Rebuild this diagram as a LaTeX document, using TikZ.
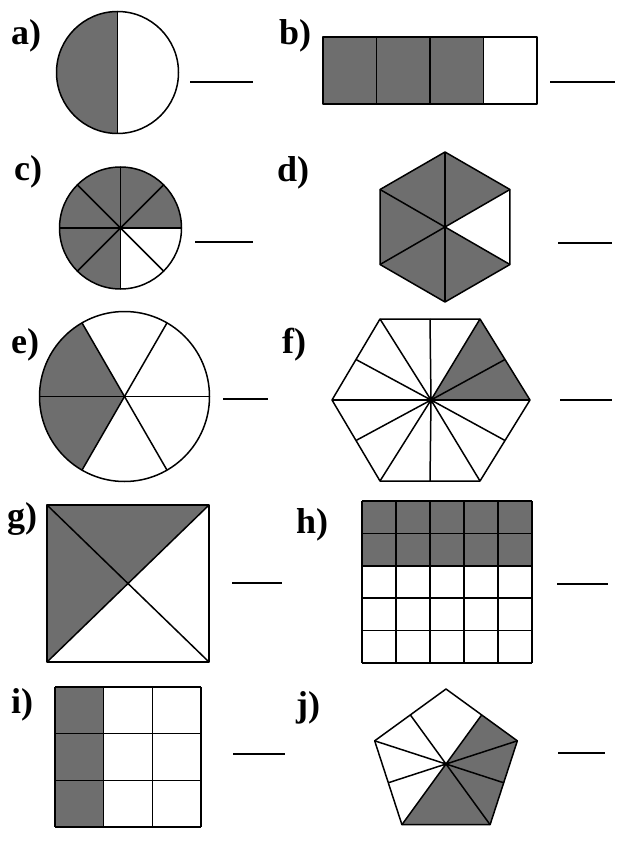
\documentclass[tikz,border=0pt]{standalone}
\usepackage{fontspec}
\setmainfont{Liberation Serif}
\usetikzlibrary{calc}

\begin{document}
\begin{tikzpicture}[x=1pt,y=1pt,line join=round,
  lbl/.style={font=\fontsize{36}{36}\selectfont\bfseries,anchor=base west,inner sep=0pt},
  part/.style={fill=black!57},
  edge/.style={line width=1.5pt},
  blank/.style={line width=1.4pt}]
  \useasboundingbox[fill=white] (0,0) rectangle (617,-845);

  % a) half circle
  \def\r{61}
  \coordinate (ca) at (117.5,-72.5);
  \fill[part] (ca) -- ++(90:\r) arc[start angle=90,end angle=270,radius=\r] -- cycle;
  \draw[edge] (ca) circle[radius=\r];
  \draw[edge] ($(ca)+(90:\r)$) -- ($(ca)+(270:\r)$);
  \node[lbl] (la) at (11,-45) {a)};
  \coordinate (a1) at (190,-82); \coordinate (a2) at (253,-82);
  \draw[blank] (a1) -- (a2);

  % b) strip of four
  \fill[part] (323,-37) rectangle (483.5,-104);
  \draw[edge] (323,-37) rectangle (537,-104);
  \foreach \i in {1,2,3} \draw[edge] (323+53.5*\i,-37) -- ++(0,-67);
  \node[lbl] (lb) at (279,-45) {b)};
  \coordinate (b1) at (550,-82); \coordinate (b2) at (615,-82);
  \draw[blank] (b1) -- (b2);

  % c) eighths
  \coordinate (cc) at (120.5,-228);
  \fill[part] (cc) -- ++(0:\r) arc[start angle=0,end angle=270,radius=\r] -- cycle;
  \draw[edge] (cc) circle[radius=\r];
  \foreach \t in {0,45,90,135}
    \draw[edge] ($(cc)+(\t:\r)$) -- ($(cc)+(\t+180:\r)$);
  \node[lbl] (lc) at (14,-181) {c)};
  \coordinate (c1) at (195,-242); \coordinate (c2) at (253,-242);
  \draw[blank] (c1) -- (c2);

  % d) hexagon in sixths
  \def\R{75}
  \coordinate (cd) at (445,-227);
  \fill[part] (cd) -- ($(cd)+(30:\R)$) -- ($(cd)+(90:\R)$) -- ($(cd)+(150:\R)$)
    -- ($(cd)+(210:\R)$) -- ($(cd)+(270:\R)$) -- ($(cd)+(330:\R)$) -- cycle;
  \draw[edge] ($(cd)+(30:\R)$) \foreach \t in {90,150,...,330} { -- ($(cd)+(\t:\R)$) } -- cycle;
  \foreach \t in {30,90,150}
    \draw[edge] ($(cd)+(\t:\R)$) -- ($(cd)+(\t+180:\R)$);
  \node[lbl] (ld) at (277,-182) {d)};
  \coordinate (d1) at (558,-243); \coordinate (d2) at (612,-243);
  \draw[blank] (d1) -- (d2);

  % e) sixths of a circle
  \def\re{85}
  \coordinate (ce) at (124.5,-396.5);
  \fill[part] (ce) -- ++(120:\re) arc[start angle=120,end angle=240,radius=\re] -- cycle;
  \draw[edge] (ce) circle[radius=\re];
  \foreach \t in {0,60,120}
    \draw[edge] ($(ce)+(\t:\re)$) -- ($(ce)+(\t+180:\re)$);
  \node[lbl] (le) at (11,-353) {e)};
  \coordinate (e1) at (223,-399); \coordinate (e2) at (268,-399);
  \draw[blank] (e1) -- (e2);

  % f) hexagon in twelfths
  \coordinate (cf) at (431,-400);
  \coordinate (f0) at (530,-400); \coordinate (f1) at (480,-319);
  \coordinate (f2) at (380,-319); \coordinate (f3) at (332,-400);
  \coordinate (f4) at (380,-481); \coordinate (f5) at (480,-481);
  \fill[part] (cf) -- (f0) -- (f1) -- cycle;
  \draw[edge] (f0) -- (f1) -- (f2) -- (f3) -- (f4) -- (f5) -- cycle;
  \foreach \i [evaluate=\i as \j using {int(mod(\i+1,6))}] in {0,...,5} {
    \draw[edge] (cf) -- (f\i);
    \draw[edge] (cf) -- ($(f\i)!0.5!(f\j)$);
  }
  \fill (cf) circle[radius=3.5];
  \node[lbl] (lf) at (282,-353) {f)};
  \coordinate (f6) at (560,-400); \coordinate (f7) at (612,-400);
  \draw[blank] (f6) -- (f7);

  % g) square, diagonals
  \coordinate (g0) at (47,-505); \coordinate (g1) at (209,-505);
  \coordinate (g2) at (209,-662); \coordinate (g3) at (47,-662);
  \coordinate (cg) at ($(g0)!0.5!(g2)$);
  \fill[part] (g0) -- (g1) -- (cg) -- (g3) -- cycle;
  \draw[edge] (g0) -- (g1) -- (g2) -- (g3) -- cycle;
  \draw[edge] (g0) -- (g2) (g1) -- (g3);
  \node[lbl] (lg) at (7,-527) {g)};
  \coordinate (g4) at (232,-583); \coordinate (g5) at (282,-583);
  \draw[blank] (g4) -- (g5);

  % h) 5x5 grid
  \def\hw{34}\def\hh{32.4}
  \fill[part] (362,-501) rectangle (532,-501-2*\hh);
  \foreach \i in {0,...,5} {
    \draw[edge] (362+\i*\hw,-501) -- ++(0,-5*\hh);
    \draw[edge] (362,-501-\i*\hh) -- ++(5*\hw,0);
  }
  \node[lbl] (lh) at (296,-533) {h)};
  \coordinate (h1) at (557,-584); \coordinate (h2) at (608,-584);
  \draw[blank] (h1) -- (h2);

  % i) 3x3 grid
  \def\iw{48.7}\def\ih{46.7}
  \fill[part] (55,-687) rectangle (55+\iw,-827);
  \foreach \i in {0,...,3} {
    \draw[edge] (55+\i*\iw,-687) -- ++(0,-3*\ih);
    \draw[edge] (55,-687-\i*\ih) -- ++(3*\iw,0);
  }
  \node[lbl] (li) at (11,-713) {i)};
  \coordinate (i1) at (233,-754); \coordinate (i2) at (285,-754);
  \draw[blank] (i1) -- (i2);

  % j) pentagon in tenths
  \coordinate (cj) at (446,-764);
  \foreach \t/\n in {90/a,18/b,-54/c,-126/d,162/e}
    \coordinate (j\n) at ($(cj)+(\t:\R)$);
  \fill[part] (cj) -- ($(ja)!0.5!(jb)$) -- (jb) -- (jc) -- (jd) -- cycle;
  \draw[edge] (ja) -- (jb) -- (jc) -- (jd) -- (je) -- cycle;
  \draw[edge] (cj) -- ($(ja)!0.5!(jb)$) (cj) -- (jb) (cj) -- ($(jb)!0.5!(jc)$)
    (cj) -- (jc) (cj) -- (jd) (cj) -- ($(jd)!0.5!(je)$) (cj) -- (je)
    (cj) -- ($(je)!0.5!(ja)$);
  \node[lbl] (lj) at (296,-716) {j)};
  \coordinate (j1) at (558,-753); \coordinate (j2) at (605,-753);
  \draw[blank] (j1) -- (j2);
\end{tikzpicture}
\end{document}
